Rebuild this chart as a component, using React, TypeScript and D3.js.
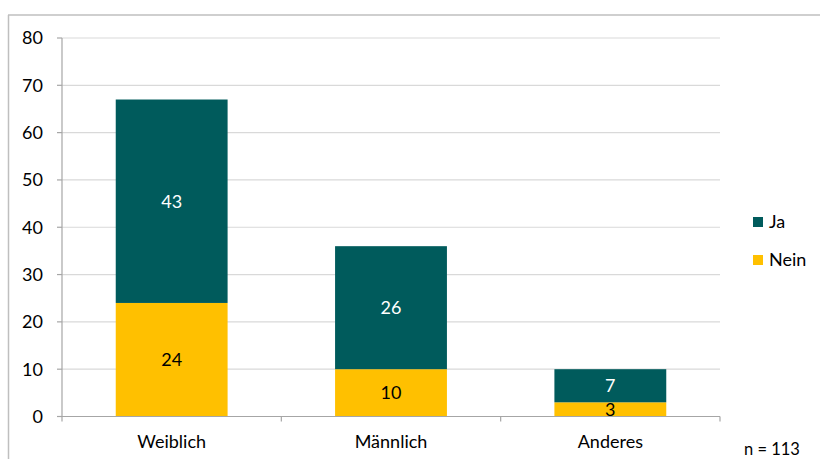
import React from "react";
import * as d3 from "d3";

const categories = ["Weiblich", "Männlich", "Anderes"];
const nein = [24, 10, 3];
const ja = [43, 26, 7];
const yTicks = [0, 10, 20, 30, 40, 50, 60, 70, 80];
const seriesNames = ["Ja", "Nein"];
const note = "n = 113";

const W = 820, H = 459;
const FONT = "Lato, 'Open Sans', sans-serif";
const TEAL = "#005B5C";
const YELLOW = "#FFC000";

export default function App() {
  const x0 = 62, x1 = 720, yTop = 38, yBot = 416.5;
  const x = d3.scaleBand<string>().domain(categories).range([x0, x1]).paddingInner(0).paddingOuter(0);
  const y = d3.scaleLinear().domain([0, 80]).range([yBot, yTop]);
  const barW = x.bandwidth() * 0.51;

  const stacked = categories.map((c, i) => ({ c, nein: nein[i], ja: ja[i] }));
  const stack = d3.stack<any>().keys(["nein", "ja"])(stacked);
  const colors: Record<string, string> = { nein: YELLOW, ja: TEAL };
  const textColors: Record<string, string> = { nein: "#000", ja: "#fff" };

  const boundaries = [x0, ...categories.map((c) => (x(c) as number) + x.bandwidth())];

  return (
    <svg width={W} height={H} style={{ position: "absolute", left: 0, top: 0 }} fontFamily={FONT}>
      <rect x={0} y={0} width={W} height={H} fill="#fff" />
      {/* frame */}
      <line x1={8} y1={15} x2={W} y2={15} stroke="#BFBFBF" strokeWidth={1.5} />
      <line x1={8.5} y1={15} x2={8.5} y2={H} stroke="#BFBFBF" strokeWidth={1.5} />
      {/* gridlines */}
      {yTicks.map((t) => (
        <line key={"g" + t} x1={x0} x2={x1} y1={y(t)} y2={y(t)} stroke="#D9D9D9" strokeWidth={1.2} />
      ))}
      {/* bars */}
      {stack.map((s) =>
        s.map((d, i) => (
          <rect
            key={s.key + i}
            x={(x(categories[i]) as number) + (x.bandwidth() - barW) / 2}
            y={y(d[1])}
            width={barW}
            height={y(d[0]) - y(d[1])}
            fill={colors[s.key]}
          />
        ))
      )}
      {/* axes */}
      <line x1={x0} x2={x0} y1={yTop} y2={yBot} stroke="#A6A6A6" strokeWidth={1.2} />
      <line x1={x0 - 5} x2={x1} y1={yBot} y2={yBot} stroke="#A6A6A6" strokeWidth={1.2} />
      {yTicks.map((t) => (
        <line key={"t" + t} x1={x0 - 5} x2={x0} y1={y(t)} y2={y(t)} stroke="#A6A6A6" strokeWidth={1.2} />
      ))}
      {boundaries.map((b, i) => (
        <line key={"xb" + i} x1={b} x2={b} y1={yBot} y2={yBot + 5} stroke="#A6A6A6" strokeWidth={1.2} />
      ))}
      {yTicks.map((t) => (
        <text key={"yl" + t} x={43} y={y(t)} dy="0.36em" textAnchor="end" fontSize={18} fill="#000">
          {t}
        </text>
      ))}
      {categories.map((c) => (
        <text key={"xl" + c} x={(x(c) as number) + x.bandwidth() / 2} y={448} textAnchor="middle" fontSize={18} fill="#000">
          {c}
        </text>
      ))}
      {/* value labels */}
      {stack.map((s) =>
        s.map((d, i) => (
          <text
            key={"v" + s.key + i}
            x={(x(categories[i]) as number) + x.bandwidth() / 2}
            y={(y(d[0]) + y(d[1])) / 2}
            dy="0.36em"
            textAnchor="middle"
            fontSize={18}
            fill={textColors[s.key]}
          >
            {d[1] - d[0]}
          </text>
        ))
      )}
      {/* legend */}
      {seriesNames.map((n, i) => (
        <g key={n} transform={`translate(753, ${217 + i * 38})`}>
          <rect x={0} y={0} width={10} height={10} fill={n === "Ja" ? TEAL : YELLOW} />
          <text x={16} y={5} dy="0.36em" fontSize={18} fill="#000">{n}</text>
        </g>
      ))}
      <text x={744} y={455} fontSize={16.5} fill="#000">{note}</text>
    </svg>
  );
}
